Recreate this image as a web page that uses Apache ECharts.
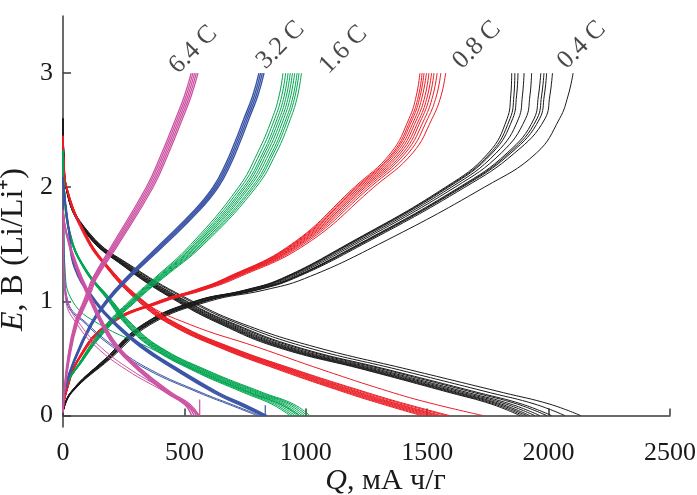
<!DOCTYPE html>
<html>
<head>
<meta charset="utf-8">
<script src="https://cdn.jsdelivr.net/npm/echarts@6/dist/echarts.min.js"></script>
<style>
  html, body { margin: 0; padding: 0; background: #fff; }
  #chart { width: 697px; height: 495px; }
</style>
</head>
<body>
<div id="chart"></div>
<script>
// Galvanostatic charge / discharge profiles, E (V vs Li/Li+) against Q (mA h/g)
// Each curve is tabulated as capacity values at fixed potential levels.

const xTicks = [0, 500, 1000, 1500, 2000, 2500];
const yTicks = [0, 1, 2, 3];

// ---- charge (delithiation) curves: Q at these potentials ----
const chargeE = [0.03, 0.2, 0.5, 0.8, 1.0, 1.1, 1.2, 1.5, 2.0, 2.3, 2.6, 2.8, 3.0];

const charge04 = [
  [0, 30, 175, 330, 540, 750, 900, 1170, 1575, 1752, 1829, 1844, 1848],
  [0, 30, 176, 332, 544, 754, 904, 1175, 1581, 1761, 1841, 1857, 1861],
  [0, 31, 177, 334, 547, 758, 908, 1180, 1587, 1768, 1852, 1868, 1874],
  [0, 31, 180, 337, 554, 765, 915, 1190, 1599, 1784, 1876, 1892, 1899],
  [0, 32, 183, 342, 562, 775, 925, 1202, 1614, 1805, 1905, 1923, 1930],
  [0, 33, 186, 347, 572, 786, 936, 1216, 1632, 1829, 1940, 1958, 1968],
  [0, 33, 188, 349, 576, 790, 940, 1221, 1638, 1837, 1952, 1971, 1981],
  [0, 33, 189, 351, 579, 793, 943, 1226, 1644, 1845, 1963, 1982, 1992],
  [0, 34, 191, 354, 585, 800, 950, 1235, 1655, 1860, 1985, 2005, 2016],
  [0, 36, 196, 362, 600, 830, 995, 1300, 1735, 1950, 2045, 2080, 2101]
];
const charge08 = [
  [0, 12, 62, 180, 390, 542, 665, 940, 1200, 1350, 1425, 1455, 1470],
  [0, 12, 63, 181, 393, 545, 669, 945, 1207, 1358, 1433, 1464, 1479],
  [0, 12, 63, 183, 395, 548, 672, 950, 1213, 1364, 1440, 1471, 1487],
  [0, 13, 64, 184, 398, 552, 676, 955, 1220, 1372, 1449, 1480, 1497],
  [0, 13, 65, 186, 401, 555, 681, 961, 1228, 1381, 1458, 1491, 1507],
  [0, 13, 66, 188, 404, 559, 685, 967, 1236, 1390, 1468, 1501, 1518],
  [0, 13, 66, 189, 407, 563, 690, 973, 1244, 1400, 1477, 1511, 1528],
  [0, 13, 67, 191, 410, 567, 695, 980, 1254, 1410, 1489, 1523, 1541],
  [0, 14, 68, 194, 414, 573, 701, 989, 1265, 1423, 1502, 1538, 1556],
  [0, 14, 70, 197, 420, 580, 710, 1000, 1280, 1440, 1520, 1557, 1576]
];
const charge16 = [
  [0, 5, 78, 178, 272, 320, 375, 527, 723, 801, 861, 890, 906],
  [0, 5, 79, 181, 276, 325, 380, 535, 733, 812, 872, 901, 917],
  [0, 6, 81, 184, 280, 329, 385, 542, 743, 823, 882, 911, 927],
  [0, 6, 82, 187, 283, 332, 389, 548, 751, 831, 891, 920, 936],
  [0, 6, 83, 189, 286, 336, 393, 554, 760, 840, 900, 929, 945],
  [0, 6, 84, 192, 290, 340, 397, 560, 768, 850, 909, 938, 954],
  [0, 7, 86, 195, 293, 344, 402, 567, 778, 860, 919, 948, 964],
  [0, 7, 87, 197, 296, 348, 405, 573, 786, 868, 927, 956, 972],
  [0, 7, 88, 200, 300, 352, 410, 580, 795, 878, 937, 966, 982]
];
// the 3.2 C branch bends more gradually near 2 V, so it is tabulated more finely
const chargeE32 = [0.03, 0.2, 0.5, 0.8, 1.0, 1.2, 1.5, 1.8, 2.0, 2.2, 2.4, 2.6, 2.8, 3.0];
const charge32 = [
  [0, 5, 47, 112, 174, 257, 400, 542, 618, 669, 709, 745, 781, 807],
  [0, 6, 49, 115, 178, 262, 407, 549, 625, 676, 716, 752, 788, 814],
  [0, 6, 51, 118, 182, 267, 414, 556, 632, 683, 723, 759, 795, 821],
  [0, 7, 53, 121, 186, 272, 421, 563, 639, 690, 730, 766, 802, 828]
];
const charge64 = [
  [0, 4, 19, 47, 84, 102, 121, 204, 343, 407, 464, 500, 528],
  [0, 5, 21, 50, 88, 107, 125, 210, 350, 414, 471, 507, 535],
  [0, 5, 23, 53, 92, 111, 129, 216, 357, 421, 478, 514, 542],
  [0, 6, 25, 56, 96, 115, 133, 222, 364, 428, 485, 521, 549],
  [0, 6, 27, 59, 100, 119, 137, 228, 371, 435, 492, 528, 556]
];

// ---- discharge (lithiation) curves: Q at these potentials ----
const disE04 = [2.6, 2.2, 2.0, 1.6, 1.3, 1.0, 0.8, 0.6, 0.4, 0.2, 0.1, 0.0];
const discharge04 = [
  [0, 4, 12, 94, 255, 470, 650, 880, 1245, 1595, 1765, 1882],
  [0, 4, 12, 95, 258, 475, 657, 890, 1255, 1607, 1778, 1895],
  [0, 4, 12, 96, 261, 480, 664, 900, 1266, 1620, 1792, 1909],
  [0, 4, 13, 97, 264, 485, 671, 910, 1277, 1633, 1806, 1923],
  [0, 4, 13, 98, 267, 491, 680, 922, 1292, 1651, 1825, 1943],
  [0, 5, 13, 100, 271, 497, 689, 935, 1308, 1670, 1845, 1964],
  [0, 5, 13, 102, 275, 505, 700, 952, 1328, 1695, 1872, 1992],
  [0, 5, 14, 103, 279, 511, 709, 965, 1343, 1713, 1891, 2012],
  [0, 5, 14, 106, 285, 525, 728, 1000, 1385, 1760, 1944, 2067],
  [0, 5, 14, 108, 290, 535, 745, 1040, 1430, 1815, 2005, 2132]
];
const disE08 = [2.45, 2.2, 2.0, 1.6, 1.3, 1.0, 0.8, 0.6, 0.4, 0.2, 0.1, 0.0];
const discharge08 = [
  [0, 4, 14, 85, 177, 310, 440, 640, 890, 1165, 1315, 1476],
  [0, 4, 14, 86, 179, 313, 444, 646, 899, 1176, 1327, 1490],
  [0, 4, 15, 87, 180, 316, 448, 652, 908, 1187, 1339, 1504],
  [0, 4, 15, 88, 182, 319, 453, 659, 917, 1197, 1350, 1517],
  [0, 4, 15, 89, 183, 322, 457, 665, 925, 1208, 1362, 1531],
  [0, 4, 15, 90, 185, 325, 462, 671, 934, 1219, 1374, 1545],
  [0, 5, 16, 90, 186, 328, 466, 677, 942, 1229, 1385, 1558],
  [0, 5, 16, 91, 188, 332, 471, 684, 951, 1244, 1402, 1579],
  [0, 5, 16, 92, 190, 335, 475, 690, 960, 1255, 1415, 1593],
  [0, 4, 13, 82, 178, 330, 520, 800, 1070, 1360, 1530, 1730]
];
const disE16 = [2.32, 2.2, 2.0, 1.6, 1.3, 1.0, 0.8, 0.6, 0.4, 0.2, 0.1, 0.0];
const discharge16 = [
  [0, 1, 4, 25, 82, 188, 258, 362, 530, 745, 860, 935],
  [0, 1, 4, 26, 83, 190, 261, 367, 537, 755, 871, 945],
  [0, 1, 4, 26, 84, 192, 264, 372, 545, 765, 883, 955],
  [0, 1, 5, 27, 85, 194, 268, 377, 552, 775, 894, 965],
  [0, 1, 5, 28, 86, 196, 271, 381, 560, 785, 905, 975],
  [0, 1, 5, 28, 87, 199, 275, 386, 567, 795, 916, 985],
  [0, 1, 5, 29, 88, 201, 278, 391, 575, 805, 928, 995],
  [0, 1, 5, 29, 89, 203, 282, 396, 582, 815, 939, 1005],
  [0, 1, 5, 30, 90, 205, 285, 400, 590, 825, 950, 1016],
  [0, 1, 2, 4, 8, 40, 150, 350, 545, 770, 895, 975]
];
const disE32 = [2.09, 2.0, 1.6, 1.3, 1.0, 0.8, 0.6, 0.4, 0.2, 0.1, 0.0];
const discharge32 = [
  [0, 2, 24, 46, 128, 211, 319, 462, 620, 720, 822],
  [0, 2, 25, 48, 131, 215, 325, 469, 628, 729, 829],
  [0, 2, 26, 49, 134, 219, 330, 475, 635, 737, 835],
  [0, 3, 27, 51, 137, 223, 335, 481, 642, 745, 840]
];
const discharge32first = [
  [0, 1, 3, 5, 15, 95, 205, 350, 560, 680, 800],
  [0, 1, 3, 6, 20, 102, 215, 362, 572, 692, 812]
];
const disE64 = [1.8, 1.6, 1.3, 1.0, 0.8, 0.6, 0.4, 0.2, 0.1, 0.0];
const discharge64 = [
  [0, 12, 52, 112, 157, 215, 308, 425, 500, 530],
  [0, 13, 55, 116, 161, 220, 314, 432, 508, 540],
  [0, 14, 58, 120, 165, 225, 320, 440, 515, 550],
  [0, 15, 61, 124, 169, 230, 326, 448, 523, 560]
];
const discharge64first = [
  [0, 1, 3, 12, 58, 138, 262, 425, 500, 560],
  [0, 1, 4, 20, 70, 155, 280, 440, 510, 565]
];

// short relaxation steps at the end of discharge
const relax32 = [[833, 0], [833, 0.09]];
const relax64 = [[563, 0], [563, 0.14]];

// C-rate labels and their anchor points
const rateNames = ['6.4 C', '3.2 C', '1.6 C', '0.8 C', '0.4 C'];
const rateQ = [492, 852, 1110, 1660, 2092];
const rateE = [2.95, 2.99, 2.95, 2.99, 2.99];

const colors = {
  c04: '#1a1a1a',
  c08: '#ec1c24',
  c16: '#00a650',
  c32: '#3b55a6',
  c64: '#cc52a2'
};

const serif = '"Liberation Serif", "Times New Roman", Times, serif';
const textColor = '#1a1a1a';
const axisColor = '#3a3a3a';

function curveSeries(levels, table, color, width) {
  return table.map(q => ({
    type: 'line',
    data: q.map((v, i) => [v, levels[i]]),
    symbol: 'none',
    smooth: 0.45,
    lineStyle: { color: color, width: width },
    silent: true
  }));
}

const series = [].concat(
  curveSeries(chargeE, charge04, colors.c04, 1),
  curveSeries(disE04, discharge04, colors.c04, 1),
  curveSeries(chargeE, charge08, colors.c08, 1),
  curveSeries(disE08, discharge08, colors.c08, 1),
  curveSeries(chargeE, charge16, colors.c16, 1),
  curveSeries(disE16, discharge16, colors.c16, 1),
  curveSeries(chargeE32, charge32, colors.c32, 1.4),
  curveSeries(disE32, discharge32, colors.c32, 1.4),
  curveSeries(disE32, discharge32first, colors.c32, 1),
  curveSeries(chargeE, charge64, colors.c64, 1.3),
  curveSeries(disE64, discharge64, colors.c64, 1.4),
  curveSeries(disE64, discharge64first, colors.c64, 1),
  [
    { type: 'line', data: relax32, symbol: 'none', lineStyle: { color: colors.c32, width: 1.2 }, silent: true },
    { type: 'line', data: relax64, symbol: 'none', lineStyle: { color: colors.c64, width: 1.2 }, silent: true },
    {
      type: 'scatter',
      symbolSize: 0,
      silent: true,
      data: rateNames.map((n, i) => ({ value: [rateQ[i], rateE[i]], name: n })),
      label: {
        show: true,
        position: [0, 0],
        rotate: 45,
        align: 'left',
        verticalAlign: 'bottom',
        formatter: p => p.name,
        fontFamily: serif,
        fontSize: 26,
        color: textColor
      }
    }
  ]
);

const chart = echarts.init(document.getElementById('chart'), null, { renderer: 'canvas' });
chart.setOption({
  animation: false,
  backgroundColor: '#ffffff',
  textStyle: { fontFamily: serif },
  grid: { left: 63, right: 27, top: 16, bottom: 68, outerBoundsMode: 'none' },
  xAxis: {
    type: 'value',
    min: 0,
    max: 2500,
    interval: 500,
    splitLine: { show: false },
    axisLine: { lineStyle: { color: axisColor, width: 1.5 } },
    axisTick: { inside: true, length: 7, lineStyle: { color: axisColor, width: 1.5 } },
    axisLabel: {
      customValues: xTicks,
      formatter: v => String(v),
      margin: 13,
      fontFamily: serif,
      fontSize: 26,
      color: textColor
    },
    name: '{i|Q}, мА ч/г',
    nameLocation: 'middle',
    nameGap: 39,
    nameMoveOverlap: false,
    nameTextStyle: {
      fontFamily: serif,
      fontSize: 30,
      color: textColor,
      padding: [0, 0, 0, 38],
      rich: {
        i: { fontFamily: serif, fontSize: 30, fontStyle: 'italic', color: textColor }
      }
    }
  },
  yAxis: {
    type: 'value',
    min: -0.1,
    max: 3.5,
    splitLine: { show: false },
    axisLine: { lineStyle: { color: axisColor, width: 1.5 } },
    axisTick: {
      inside: true,
      length: 8,
      customValues: yTicks,
      lineStyle: { color: axisColor, width: 1.5 }
    },
    axisLabel: {
      customValues: yTicks,
      formatter: v => String(v),
      margin: 10,
      fontFamily: serif,
      fontSize: 26,
      color: textColor
    },
    name: '{i|E}, В (Li/Li⁺)',
    nameLocation: 'middle',
    nameGap: 26,
    nameTextStyle: {
      fontFamily: serif,
      fontSize: 32,
      color: textColor,
      padding: [0, 56, 0, 0],
      rich: {
        i: { fontFamily: serif, fontSize: 32, fontStyle: 'italic', color: textColor }
      }
    }
  },
  series: series
});
</script>
</body>
</html>
